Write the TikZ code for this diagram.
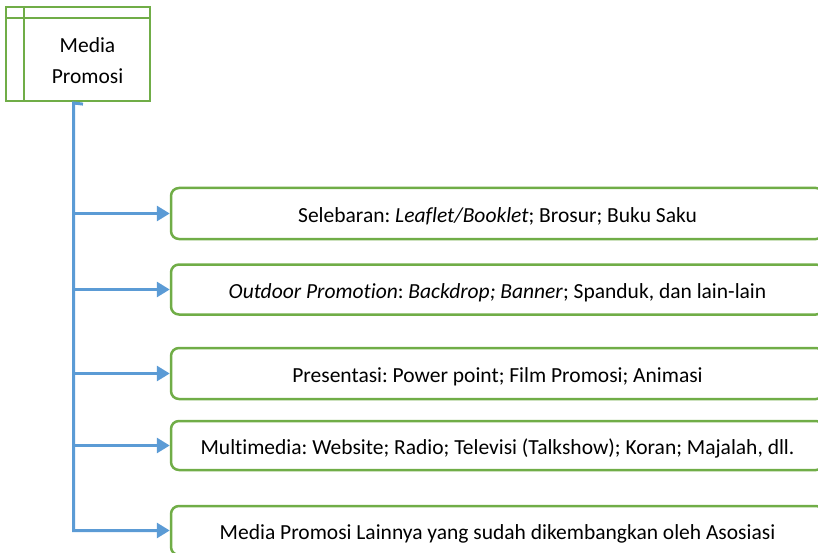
\documentclass[tikz,border=0pt]{standalone}
\usepackage{fontspec}
\setmainfont{Carlito}[Ligatures=CommonOff]
\usepackage{tikz}
\usetikzlibrary{arrows.meta, positioning, calc}
\definecolor{mediagreen}{HTML}{70AD47}
\definecolor{mediablue}{HTML}{5B9BD5}
\frenchspacing

\begin{document}
\begin{tikzpicture}[x=1pt, y=-1pt,
  headbox/.style={rectangle, draw=mediagreen, line width=2.2pt,
    minimum width=144pt, minimum height=94pt, inner sep=0pt},
  itembox/.style={rectangle, draw=mediagreen, line width=2.5pt,
    rounded corners=8pt, minimum width=653pt, minimum height=50pt,
    inner sep=0pt, text height=20pt, text depth=2pt,
    font=\fontsize{21.5}{26}\selectfont},
  arrow/.style={-{Triangle[length=13pt, width=15pt]}, line width=3pt,
    color=mediablue}
]
  \clip (0,0) rectangle (818,553);

  \node[headbox] (media) at (78,54) {};
  \draw[mediagreen, line width=2.2pt] ([xshift=19pt]media.north west) -- ([xshift=19pt]media.south west);
  \draw[mediagreen, line width=2.2pt] ([yshift=-12pt]media.north west) -- ([yshift=-12pt]media.north east);
  \node[align=center, font=\fontsize{21.5}{31}\selectfont] (mediatext) at (87.5,61) {Media\\Promosi};

  \node[itembox, minimum height=51pt] (leaflet)    at (497.5,213.5) {Selebaran: \textit{Leaflet/Booklet}; Brosur; Buku Saku};
  \node[itembox]                      (outdoor)    at (497.5,289.5) {\textit{Outdoor Promotion}: \textit{Backdrop; Banner}; Spanduk, dan lain-lain};
  \node[itembox, minimum height=51pt] (presentasi) at (497.5,373.5) {Presentasi: Power point; Film Promosi; Animasi};
  \node[itembox, minimum height=49pt] (multimedia) at (497.5,445.5) {Multimedia: Website; Radio; Televisi (Talkshow); Koran; Majalah, dll.};
  \node[itembox, minimum height=49pt] (lainnya)    at (497.5,530.5) {Media Promosi Lainnya yang sudah dikembangkan oleh Asosiasi};

  \coordinate (trunk) at (73.5,103);
  \draw[arrow] ([xshift=5pt, yshift=-2pt]media.south) -- (trunk) |- (lainnya.west);
  \foreach \item in {leaflet, outdoor, presentasi, multimedia}
    \draw[arrow] ([xshift=-1.5pt]trunk |- \item.west) -- (\item.west);
\end{tikzpicture}
\end{document}
